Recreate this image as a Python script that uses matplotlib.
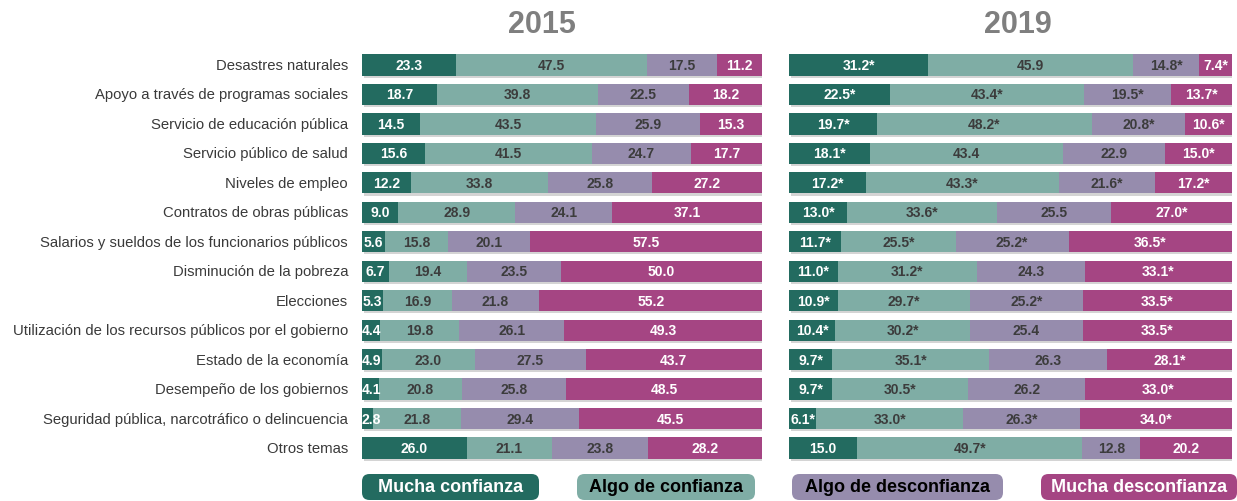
import numpy as np
import matplotlib
matplotlib.use('Agg')
import matplotlib.pyplot as plt
import matplotlib.patheffects as pe
from matplotlib.patches import FancyBboxPatch

temas = ['Desastres naturales', 'Apoyo a través de programas sociales',
         'Servicio de educación pública', 'Servicio público de salud',
         'Niveles de empleo', 'Contratos de obras públicas',
         'Salarios y sueldos de los funcionarios públicos',
         'Disminución de la pobreza', 'Elecciones',
         'Utilización de los recursos públicos por el gobierno',
         'Estado de la economía', 'Desempeño de los gobiernos',
         'Seguridad pública, narcotráfico o delincuencia', 'Otros temas']

series = ['Mucha confianza', 'Algo de confianza', 'Algo de desconfianza', 'Mucha desconfianza']

# 2015
mucha_conf_15 = [23.3, 18.7, 14.5, 15.6, 12.2, 9.0, 5.6, 6.7, 5.3, 4.4, 4.9, 4.1, 2.8, 26.0]
algo_conf_15 = [47.5, 39.8, 43.5, 41.5, 33.8, 28.9, 15.8, 19.4, 16.9, 19.8, 23.0, 20.8, 21.8, 21.1]
algo_desc_15 = [17.5, 22.5, 25.9, 24.7, 25.8, 24.1, 20.1, 23.5, 21.8, 26.1, 27.5, 25.8, 29.4, 23.8]
mucha_desc_15 = [11.2, 18.2, 15.3, 17.7, 27.2, 37.1, 57.5, 50.0, 55.2, 49.3, 43.7, 48.5, 45.5, 28.2]

# 2019
mucha_conf_19 = [31.2, 22.5, 19.7, 18.1, 17.2, 13.0, 11.7, 11.0, 10.9, 10.4, 9.7, 9.7, 6.1, 15.0]
algo_conf_19 = [45.9, 43.4, 48.2, 43.4, 43.3, 33.6, 25.5, 31.2, 29.7, 30.2, 35.1, 30.5, 33.0, 49.7]
algo_desc_19 = [14.8, 19.5, 20.8, 22.9, 21.6, 25.5, 25.2, 24.3, 25.2, 25.4, 26.3, 26.2, 26.3, 12.8]
mucha_desc_19 = [7.4, 13.7, 10.6, 15.0, 17.2, 27.0, 36.5, 33.1, 33.5, 33.5, 28.1, 33.0, 34.0, 20.2]
# asterisco = diferencia significativa respecto a 2015
star_mc_19 = [1, 1, 1, 1, 1, 1, 1, 1, 1, 1, 1, 1, 1, 0]
star_ac_19 = [0, 1, 1, 0, 1, 1, 1, 1, 1, 1, 1, 1, 1, 1]
star_ad_19 = [1, 1, 1, 0, 1, 0, 1, 0, 1, 0, 0, 0, 1, 0]
star_md_19 = [1, 1, 1, 1, 1, 1, 1, 1, 1, 1, 1, 1, 1, 0]

colores = ['#236b60', '#7fada5', '#968cad', '#a54583']
txtcol = ['white', '#3c3c3c', '#3c3c3c', 'white']

FONT = ['Liberation Sans', 'DejaVu Sans']

fig = plt.figure(figsize=(12.37, 5.02), dpi=100)


def panel(rect, raw, stars):
    ax = fig.add_axes(rect)
    data = np.array(raw, dtype=float)
    data = data / data.sum(axis=0) * 100   # cada barra llena el 100 %
    y = np.arange(len(temas))
    left = np.zeros(len(temas))
    for k in range(4):
        bars = ax.barh(y, data[k], left=left, height=0.72, color=colores[k],
                       edgecolor='none')
        for b in bars:
            b.set_path_effects([pe.SimplePatchShadow(offset=(1.2, -1.5), shadow_rgbFace='#aaaaaa', alpha=0.5),
                                pe.Normal()])
        for i in range(len(temas)):
            s = '%.1f' % raw[k][i]
            if stars is not None and stars[k][i]:
                s += '*'
            xc = left[i] + data[k][i] / 2
            if k == 0:
                xc = max(xc, 2.4)
            ax.text(xc, i, s, ha='center', va='center', color=txtcol[k],
                    fontsize=10, fontweight='bold', family=FONT)
        left = left + data[k]
    ax.set_xlim(0, 100)
    ax.set_ylim(len(temas) - 0.5, -0.5)
    ax.axis('off')
    return ax


raw15 = [mucha_conf_15, algo_conf_15, algo_desc_15, mucha_desc_15]
raw19 = [mucha_conf_19, algo_conf_19, algo_desc_19, mucha_desc_19]
stars19 = [star_mc_19, star_ac_19, star_ad_19, star_md_19]

bottom, height = 0.0763, 0.8215
ax1 = panel([362 / 1237, bottom, 400 / 1237, height], raw15, None)
ax2 = panel([789 / 1237, bottom, 443 / 1237, height], raw19, stars19)

for i, t in enumerate(temas):
    ax1.text(-3.5, i, t, ha='right', va='center', fontsize=10.7, color='#3a3a3a',
             family=FONT)

fig.text(542 / 1237, 1 - 25 / 502, '2015', ha='center', va='center', fontsize=22,
         fontweight='bold', color='#7f7f7f', family=FONT)
fig.text(1018 / 1237, 1 - 25 / 502, '2019', ha='center', va='center', fontsize=22,
         fontweight='bold', color='#7f7f7f', family=FONT)

# leyenda
leg_x = [362, 577, 792, 1041]
leg_w = [177, 178, 211, 196]
leg_txt = ['white', 'black', 'black', 'white']
for k in range(4):
    x0 = leg_x[k] / 1237
    w = leg_w[k] / 1237
    y0 = 1 - 501 / 502
    h = 26 / 502
    box = FancyBboxPatch((x0, y0), w, h, boxstyle='round,pad=0,rounding_size=0.006',
                         transform=fig.transFigure, facecolor=colores[k],
                         edgecolor='none', mutation_aspect=1237 / 502)
    fig.patches.append(box)
    fig.text(x0 + w / 2, y0 + h / 2, series[k], ha='center', va='center',
             fontsize=13, fontweight='bold', color=leg_txt[k], family=FONT)

fig.savefig('out.png', dpi=100, facecolor='white')
